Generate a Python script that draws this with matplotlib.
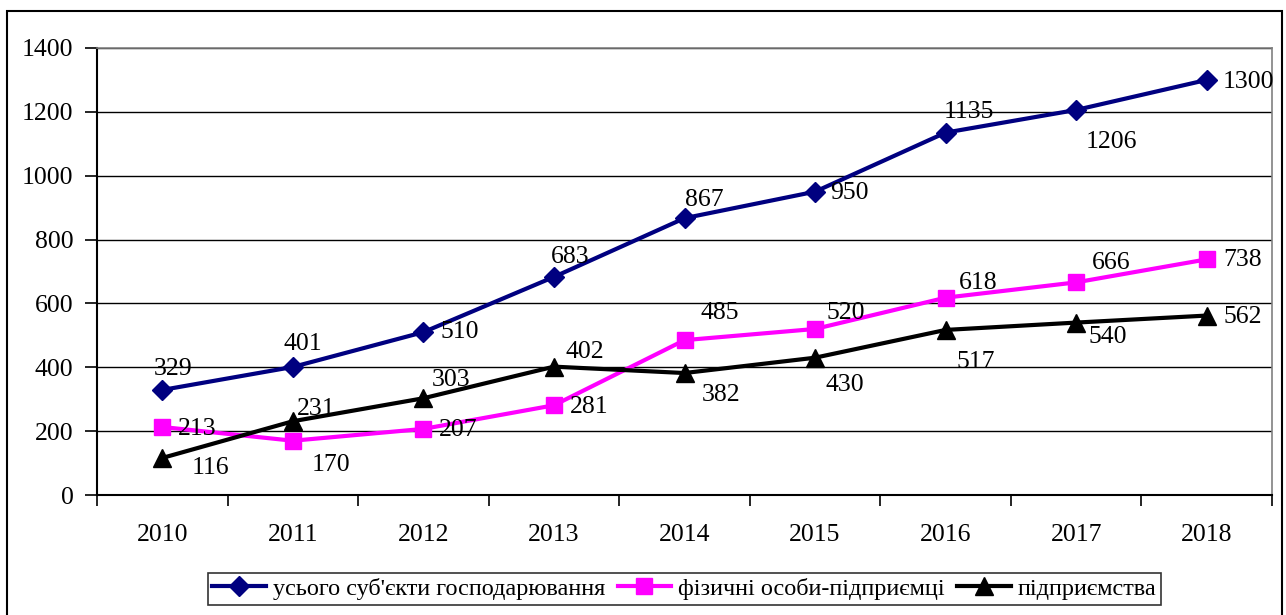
import matplotlib
matplotlib.use('Agg')
import matplotlib.pyplot as plt
import matplotlib.patches as mpatches
import numpy as np

# Data
years = ['2010', '2011', '2012', '2013', '2014', '2015', '2016', '2017', '2018']
total = [329, 401, 510, 683, 867, 950, 1135, 1206, 1300]
individuals = [213, 170, 207, 281, 485, 520, 618, 666, 738]
enterprises = [116, 231, 303, 402, 382, 430, 517, 540, 562]

names = ["усього суб'єкти господарювання", "фізичні особи-підприємці", "підприємства"]

# label offsets in pixels (dx, dy; dy up positive)
off_total = [(11, 21), (10, 23), (36, 0), (16, 20), (20, 18), (34, -1), (23, 21), (35, -32), (42, -2)]
off_ind = [(35, -2), (38, -24), (35, -1), (35, -2), (35, 27), (31, 16), (33, 15), (35, 19), (36, -1)]
off_ent = [(48, -10), (23, 12), (28, 18), (31, 15), (37, -22), (30, -27), (30, -32), (32, -14), (36, -1)]

plt.rcParams['font.family'] = ['Liberation Serif', 'DejaVu Serif']

fig = plt.figure(figsize=(12.86, 6.15), dpi=100)
ax = fig.add_axes([97 / 1286, 120 / 615, 1175 / 1286, 447 / 615])

x = np.arange(len(years)) + 0.5

series = [
    (total, '#000080', 'D', 10, off_total),
    (individuals, '#FF00FF', 's', 11, off_ind),
    (enterprises, '#000000', '^', 13, off_ent),
]

for (vals, color, marker, ms, offs), name in zip(series, names):
    ax.plot(x, vals, color=color, lw=3, marker=marker, markersize=ms,
            markerfacecolor=color, markeredgecolor=color, label=name, zorder=3)
    for xi, v, (dx, dy) in zip(x, vals, offs):
        ax.annotate(str(v), (xi, v), xytext=(dx, dy), textcoords='offset pixels',
                    ha='center', va='center', fontsize=18.5, zorder=4)

ax.set_xlim(0, len(years))
ax.set_ylim(0, 1400)
ax.set_yticks(range(0, 1401, 200))
ax.yaxis.grid(True, color='black', lw=1)
ax.set_axisbelow(True)

ax.set_xticks(x)
ax.set_xticklabels(years)
ax.set_xticks(np.arange(len(years) + 1), minor=True)
ax.tick_params(axis='x', which='major', length=0, pad=21, labelsize=18.5)
ax.tick_params(axis='x', which='minor', length=8, width=1.2, direction='out')
ax.tick_params(axis='y', length=9, width=1.2, direction='out', pad=8, labelsize=18.5)

for side in ['top', 'right']:
    ax.spines[side].set_color('#808080')
    ax.spines[side].set_linewidth(1.2)
for side in ['left', 'bottom']:
    ax.spines[side].set_color('black')
    ax.spines[side].set_linewidth(1.5)

leg = ax.legend(loc='center', bbox_to_anchor=(0.5, -0.21), ncol=3, frameon=True,
                fancybox=False, edgecolor='black', fontsize=17.5, handlelength=2.2,
                handletextpad=0.3, columnspacing=0.5, borderpad=0.2)
leg.get_frame().set_linewidth(1.2)

# outer chart border
fig.patches.append(mpatches.Rectangle((7 / 1286, -0.02), 1275 / 1286, 1.02 - 11 / 615,
                                      transform=fig.transFigure, fill=False,
                                      edgecolor='black', lw=1.5))

fig.savefig('out.png', dpi=100)
